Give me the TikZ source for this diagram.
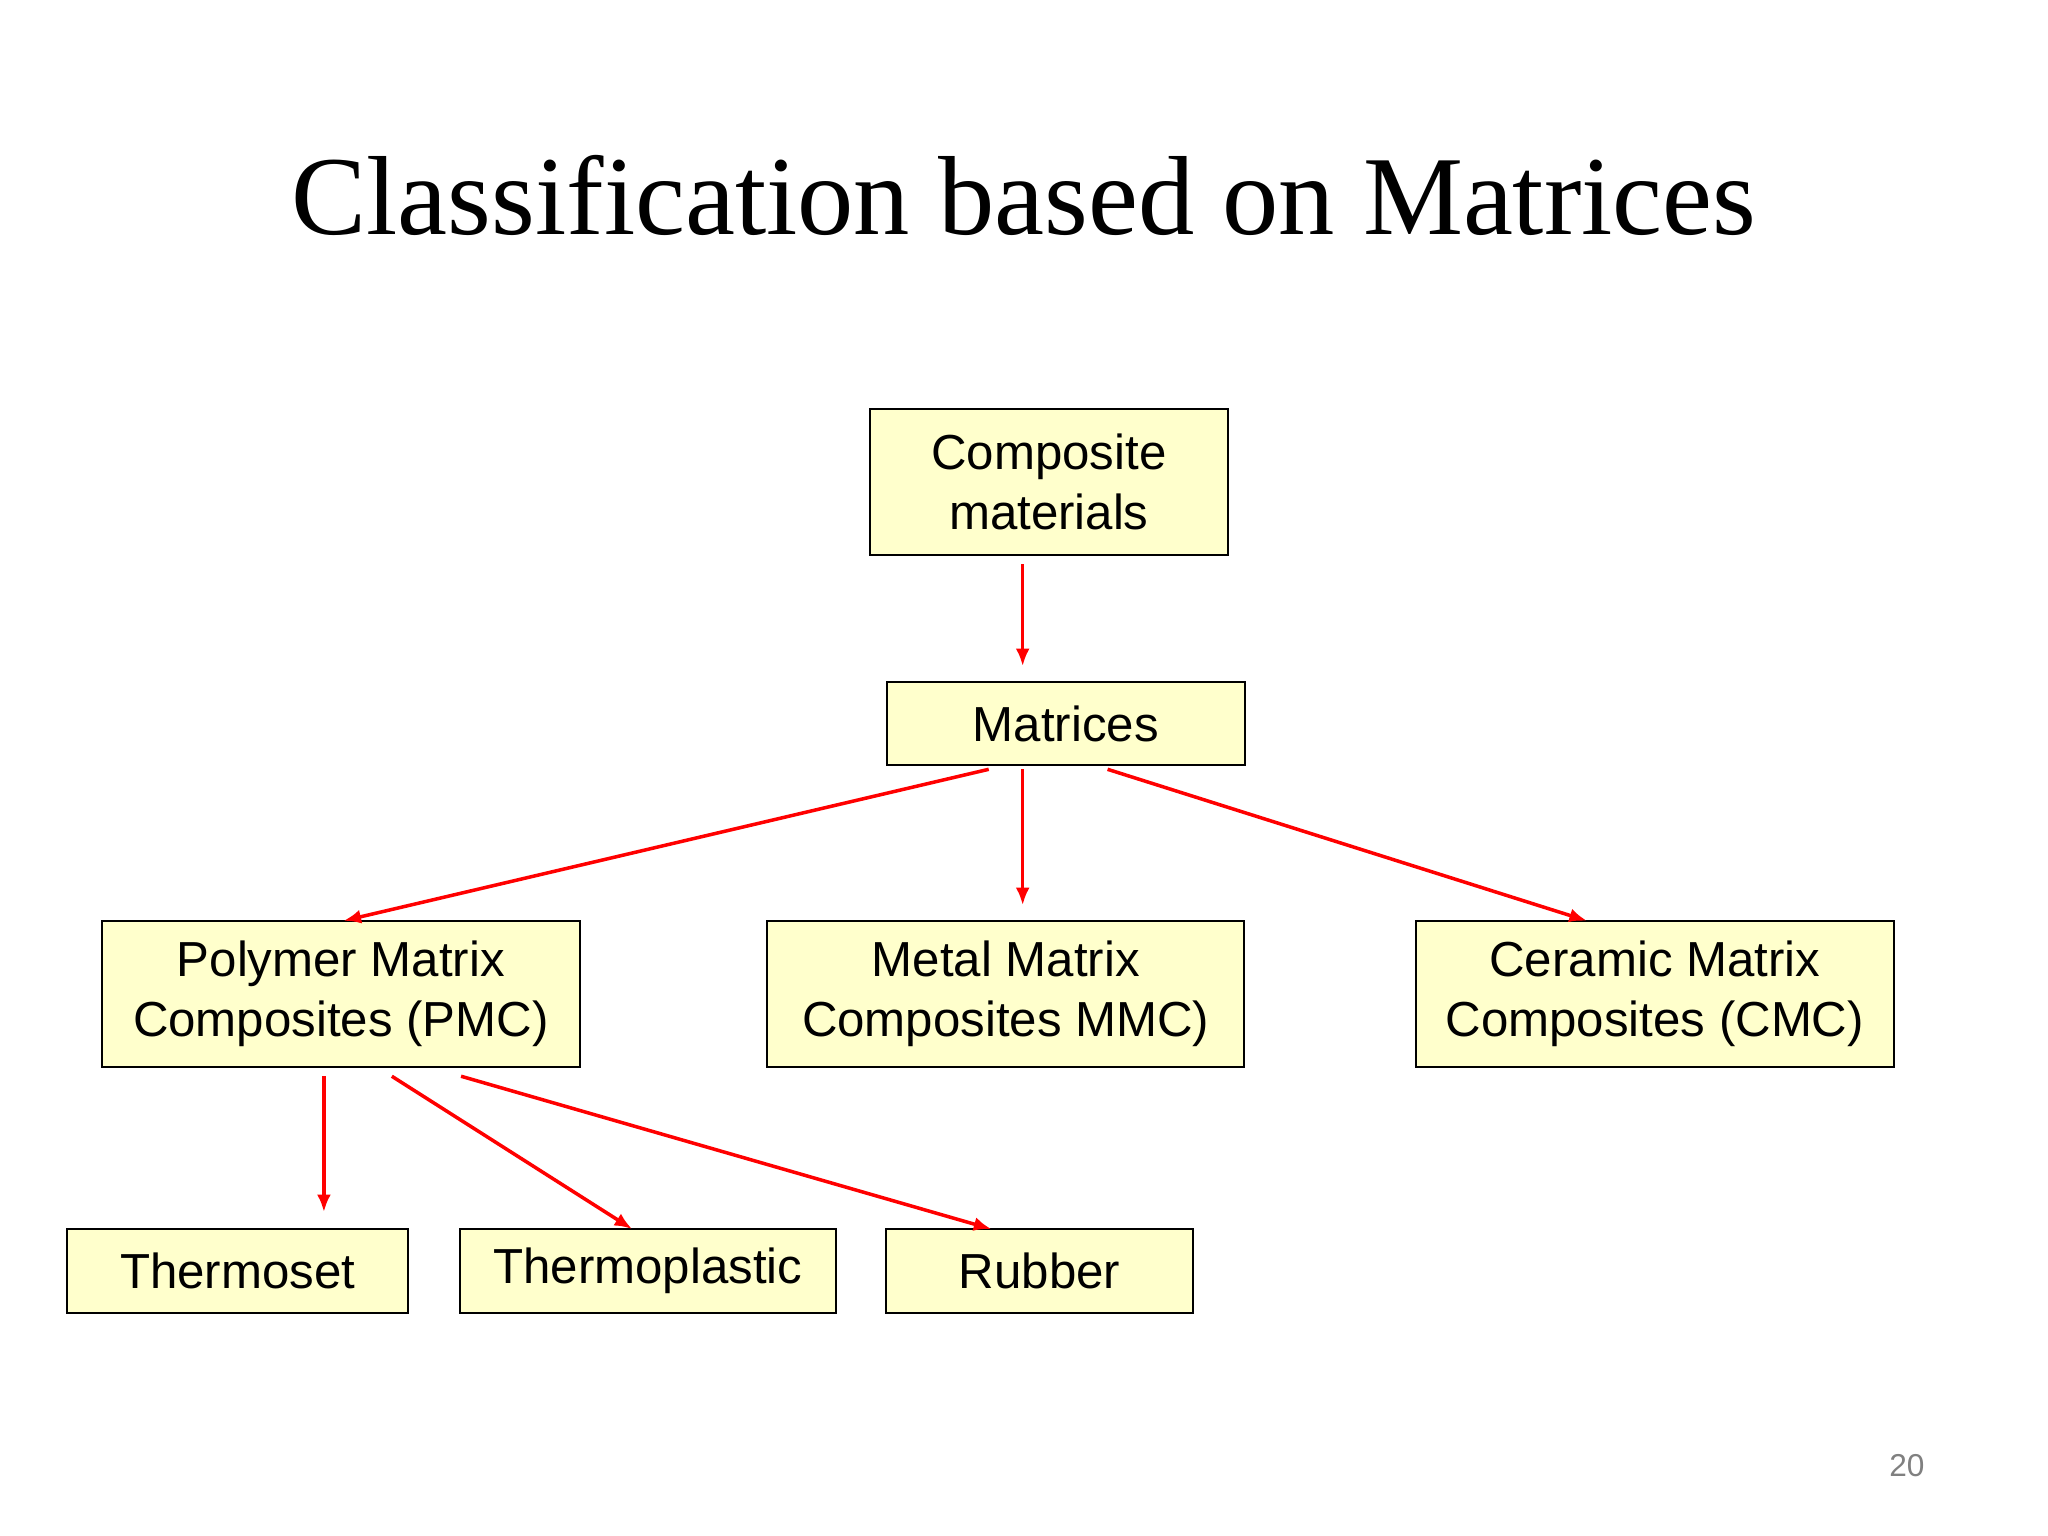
\documentclass[tikz,border=0pt]{standalone}
\usepackage{fontspec}
\setmainfont{Liberation Sans}
\newfontfamily\titlefont{Liberation Serif}
\begin{document}
\begin{tikzpicture}[x=0.01306cm,y=-0.01306cm,
  box/.style={draw=black,line width=0.6pt,fill={rgb,255:red,255;green,255;blue,204},inner sep=0pt,align=center,font=\fontsize{14}{17}\selectfont},
  arr/.style={draw=red,line width=1pt,-{Latex[length=5pt,width=4pt]}}]
\useasboundingbox (0,0) rectangle (1568,1176);
\usetikzlibrary{arrows.meta}
\node[font=\titlefont\fontsize{32}{38}\selectfont] (title) at (784,150) {Classification based on Matrices};
\node[box,minimum width=274*0.01306cm,minimum height=112*0.01306cm] (comp) at (803,369) {Composite\\materials};
\node[box,minimum width=274*0.01306cm,minimum height=64*0.01306cm] (mat) at (816,554) {Matrices};
\node[box,minimum width=366*0.01306cm,minimum height=112*0.01306cm] (pmc) at (261,761) {Polymer Matrix\\Composites (PMC)};
\node[box,minimum width=365*0.01306cm,minimum height=112*0.01306cm] (mmc) at (770,761) {Metal Matrix\\Composites MMC)};
\node[box,minimum width=366*0.01306cm,minimum height=112*0.01306cm] (cmc) at (1267,761) {Ceramic Matrix\\Composites (CMC)};
\node[box,minimum width=261*0.01306cm,minimum height=64*0.01306cm] (ts) at (182,973) {Thermoset};
\node[box,minimum width=288*0.01306cm,minimum height=64*0.01306cm] (tp) at (496,973) {Thermoplastic};
\node[box,minimum width=235*0.01306cm,minimum height=64*0.01306cm] (rub) at (796,973) {Rubber};
\node[text=gray,font=\fontsize{9}{11}\selectfont] (pg) at (1460,1122) {20};
\coordinate (c1) at (783,432); \coordinate (c2) at (783,510);
\coordinate (m1) at (757,589); \coordinate (m1e) at (263,705);
\coordinate (m2) at (783,589); \coordinate (m2e) at (783,693);
\coordinate (m3) at (848,589); \coordinate (m3e) at (1215,705);
\coordinate (p1) at (248,824); \coordinate (p1e) at (248,928);
\coordinate (p2) at (300,824); \coordinate (p2e) at (484,941);
\coordinate (p3) at (353,824); \coordinate (p3e) at (759,941);
\draw[arr] (c1) -- (c2);
\draw[arr] (m1) -- (m1e);
\draw[arr] (m2) -- (m2e);
\draw[arr] (m3) -- (m3e);
\draw[arr] (p1) -- (p1e);
\draw[arr] (p2) -- (p2e);
\draw[arr] (p3) -- (p3e);
\end{tikzpicture}
\end{document}
